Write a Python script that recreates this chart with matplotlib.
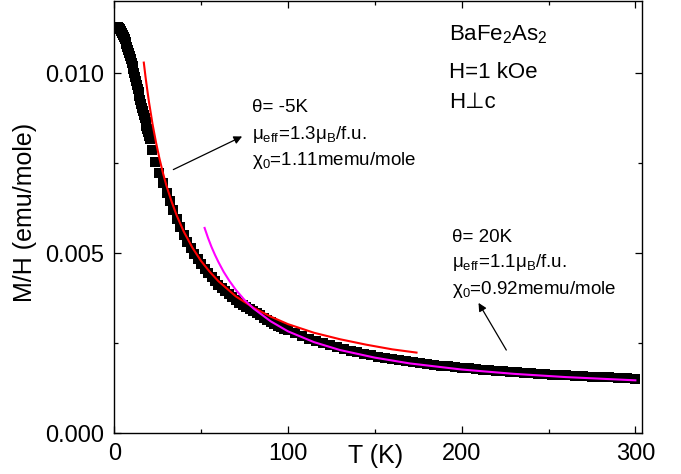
import numpy as np
import matplotlib
matplotlib.use("Agg")
import matplotlib.pyplot as plt
from matplotlib.ticker import MultipleLocator, FormatStrFormatter

# ---- data ----
T_low = [2.0, 2.5, 3.0, 3.5, 4.0, 4.5, 5.0, 5.5, 6.0, 6.5, 7.0, 7.5, 8.0, 8.5,
         9.0, 9.5, 10.0, 10.5, 11.0, 11.5, 12.0, 12.5, 13.0, 13.5, 14.0, 14.5,
         15.0, 15.5, 16.0, 16.5, 17.0, 17.5, 18.0, 18.5, 19.0, 19.5, 20.0, 20.5]
chi_low = [0.01127, 0.01126, 0.01124, 0.01121, 0.01117, 0.01112, 0.01106, 0.01100,
           0.01094, 0.01087, 0.01080, 0.01072, 0.01064, 0.01056, 0.01047, 0.01038,
           0.01029, 0.01020, 0.01010, 0.01000, 0.00990, 0.00979, 0.00968, 0.00957,
           0.00946, 0.00935, 0.00924, 0.00914, 0.00904, 0.00894, 0.00884, 0.00874,
           0.00864, 0.00854, 0.00844, 0.00835, 0.00826, 0.00817]
T_mid = [21.9, 23.4, 25.9, 28.2, 30.2, 32, 34, 36, 38, 40, 42, 44, 46, 48, 50,
         52, 54, 56, 58, 60, 62, 64, 66, 68, 70, 72, 74, 76, 78, 80, 82, 84, 86,
         88, 90, 92, 94, 96, 98, 100]
chi_mid = [0.00786, 0.00752, 0.00722, 0.00694, 0.00666, 0.00645, 0.00620, 0.00595,
           0.00572, 0.00551, 0.00532, 0.00514, 0.00498, 0.00483, 0.00469, 0.00456,
           0.00444, 0.00433, 0.00422, 0.00412, 0.00403, 0.00394, 0.00386, 0.00378,
           0.00370, 0.00363, 0.00356, 0.00350, 0.00344, 0.00339, 0.00333, 0.00327,
           0.00321, 0.00315, 0.00309, 0.00304, 0.00299, 0.00294, 0.00290, 0.00286]
T_high = [104, 108, 112, 116, 120, 124, 128, 132, 136, 140, 144, 148, 152, 156,
          160, 164, 168, 172, 176, 180, 184, 188, 192, 196, 200, 204, 208, 212,
          216, 220, 224, 228, 232, 236, 240, 244, 248, 252, 256, 260, 265, 270,
          275, 280, 285, 290, 295, 300]
chi_high = [0.00279, 0.00271, 0.00263, 0.00256, 0.00250, 0.00244, 0.00239, 0.00234,
            0.00229, 0.00225, 0.00220, 0.00217, 0.00213, 0.00210, 0.00206, 0.00203,
            0.00200, 0.00198, 0.00195, 0.00193, 0.00190, 0.00188, 0.00186, 0.00184,
            0.00182, 0.00180, 0.00178, 0.00177, 0.00175, 0.00174, 0.00172, 0.00171,
            0.00169, 0.00168, 0.00167, 0.00165, 0.00164, 0.00163, 0.00162, 0.00161,
            0.00159, 0.00158, 0.00157, 0.00156, 0.00155, 0.00154, 0.00153, 0.00152]

# Curie-Weiss fit curves as drawn
T_fit1 = [17, 18, 19, 20, 22, 24, 26, 28, 30, 33, 36, 40, 45, 50, 55, 60, 70, 80,
          90, 100, 115, 130, 145, 160, 174]
chi_fit1 = [0.01029, 0.00989, 0.00953, 0.00919, 0.00859, 0.00808, 0.00763, 0.00723,
            0.00688, 0.00643, 0.00604, 0.00560, 0.00515, 0.00478, 0.00448, 0.00422,
            0.00380, 0.00349, 0.00324, 0.00303, 0.00279, 0.00261, 0.00246, 0.00233,
            0.00224]
T_fit2 = [52, 54, 56, 58, 60, 63, 66, 70, 75, 80, 90, 100, 115, 130, 150, 170, 200,
          230, 260, 300]
chi_fit2 = [0.00570, 0.00542, 0.00517, 0.00495, 0.00475, 0.00448, 0.00425, 0.00398,
            0.00370, 0.00347, 0.00311, 0.00283, 0.00253, 0.00231, 0.00210, 0.00194,
            0.00177, 0.00165, 0.00156, 0.00147]

T_data = T_low + T_mid + T_high
chi_data = chi_low + chi_mid + chi_high

plt.rcParams['font.family'] = ['Liberation Sans', 'DejaVu Sans']
plt.rcParams['mathtext.fontset'] = 'custom'
plt.rcParams['mathtext.rm'] = 'Liberation Sans'
plt.rcParams['mathtext.it'] = 'Liberation Sans'

fig = plt.figure(figsize=(6.81, 4.74), dpi=100)
ax = fig.add_axes([0.1678, 0.0859, 0.7754, 0.9120])

ax.plot(T_data, chi_data, linestyle='none', marker='s', markersize=6.6,
        color='black', markeredgewidth=0, zorder=2)
ax.plot(T_fit1, chi_fit1, color='#ff0000', lw=1.5, zorder=3)
ax.plot(T_fit2, chi_fit2, color='#ff00ff', lw=1.5, zorder=4)

ax.set_xlim(0, 304)
ax.set_ylim(0, 0.012)
ax.xaxis.set_major_locator(MultipleLocator(100))
ax.xaxis.set_minor_locator(MultipleLocator(50))
ax.yaxis.set_major_locator(MultipleLocator(0.005))
ax.yaxis.set_minor_locator(MultipleLocator(0.0025))
ax.yaxis.set_major_formatter(FormatStrFormatter('%.3f'))
ax.tick_params(which='both', direction='in', top=True, right=True, width=0.9)
ax.tick_params(which='major', length=5, labelsize=17, pad=7)
ax.tick_params(which='minor', length=3)
for s in ax.spines.values():
    s.set_linewidth(1.0)

ax.set_ylabel('M/H (emu/mole)', fontsize=18)
ax.yaxis.set_label_coords(-0.146, 0.51)
ax.set_xlabel('T (K)', fontsize=18)
ax.xaxis.label.set_va('baseline')
ax.xaxis.set_label_coords(0.494, -0.0687)

sub = lambda s: r'$_{\mathregular{' + s + '}}$'
fs = 13.5
ax.text(192.5, 0.01091, 'BaFe' + sub('2') + 'As' + sub('2'), fontsize=16, va='baseline')
ax.text(192.5, 0.00985, 'H=1 kOe', fontsize=16, va='baseline')
ax.text(192.5, 0.00902, 'H\u22a5c', fontsize=16, va='baseline')

ax.text(79.3, 0.00891, '\u03b8= -5K', fontsize=fs, va='baseline')
ax.text(79.3, 0.00816, '\u03bc' + sub('eff') + '=1.3\u03bc' + sub('B') + '/f.u.', fontsize=fs, va='baseline')
ax.text(79.3, 0.00744, '\u03c7' + sub('0') + '=1.11memu/mole', fontsize=fs, va='baseline')

ax.text(194.6, 0.00530, '\u03b8= 20K', fontsize=fs, va='baseline')
ax.text(194.6, 0.00461, '\u03bc' + sub('eff') + '=1.1\u03bc' + sub('B') + '/f.u.', fontsize=fs, va='baseline')
ax.text(194.6, 0.00386, '\u03c7' + sub('0') + '=0.92memu/mole', fontsize=fs, va='baseline')

arrow = dict(arrowstyle='-|>', lw=0.9, color='black', mutation_scale=12,
             shrinkA=0, shrinkB=0)
ax.annotate('', xy=(73.6, 0.00824), xytext=(34.0, 0.00732), arrowprops=arrow)
ax.annotate('', xy=(209.7, 0.00362), xytext=(225.7, 0.00231), arrowprops=arrow)

fig.savefig('out.png', dpi=100)
